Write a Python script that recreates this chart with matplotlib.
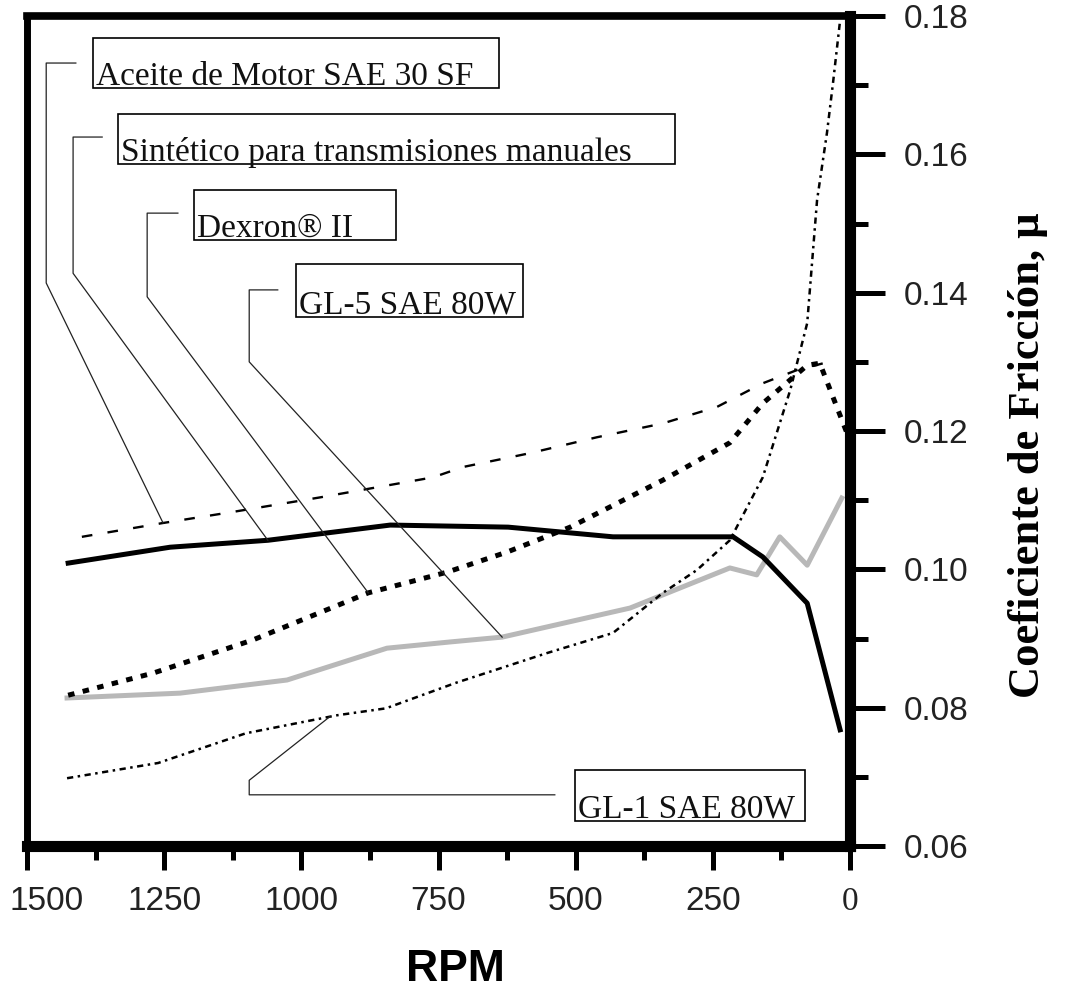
import matplotlib.pyplot as plt
from matplotlib.patches import Rectangle
from matplotlib.ticker import MultipleLocator

# datos (RPM, coeficiente de friccion)
rpm_aceite = [1400, 1252, 1125, 966, 760, 705, 583, 461, 341, 242, 159, 97, 24]
mu_aceite = [0.1047, 0.1067, 0.1083, 0.1104, 0.1133, 0.1148, 0.1168, 0.1191,
             0.1211, 0.1235, 0.1269, 0.1288, 0.1303]

rpm_sint = [1425, 1239, 1061, 838, 623, 432, 213, 159, 78, 18]
mu_sint = [0.1009, 0.1032, 0.1042, 0.1064, 0.1061, 0.1047, 0.1047, 0.1018, 0.0951, 0.0768]

rpm_dex = [1425, 1270, 1088, 878, 734, 625, 510, 341, 219, 159, 78, 55, 31, 6]
mu_dex = [0.0818, 0.0850, 0.0898, 0.0966, 0.0996, 0.1025, 0.1061, 0.1129,
          0.1183, 0.1240, 0.1295, 0.1298, 0.1249, 0.1198]

rpm_gl5 = [1427, 1221, 1026, 844, 729, 634, 401, 219, 170, 128, 78, 15]
mu_gl5 = [0.0814, 0.0821, 0.0840, 0.0886, 0.0895, 0.0902, 0.0944, 0.1002,
          0.0992, 0.1047, 0.1006, 0.1103]

rpm_gl1 = [1427, 1261, 1101, 935, 846, 718, 552, 432, 341, 279, 219, 159,
           109, 78, 60, 42, 31, 18]
mu_gl1 = [0.0698, 0.0720, 0.0763, 0.0789, 0.0799, 0.0836, 0.0879, 0.0908,
          0.0966, 0.0999, 0.1042, 0.1133, 0.1259, 0.1356, 0.1534, 0.1631,
          0.1703, 0.1794]

nombres = ["Aceite de Motor SAE 30 SF",
           "Sintético para transmisiones manuales",
           "Dexron® II",
           "GL-5 SAE 80W",
           "GL-1 SAE 80W"]

x_ticks = [1500, 1250, 1000, 750, 500, 250, 0]
y_ticks = [0.06, 0.08, 0.10, 0.12, 0.14, 0.16, 0.18]

# cajas de etiqueta (x izq, x der, y abajo, y arriba) y lineas guia, en datos
cajas = [(1380, 640, 0.1696, 0.1768),
         (1334, 319, 0.1586, 0.1658),
         (1196, 827, 0.1476, 0.1548),
         (1010, 596, 0.1365, 0.1441),
         (501, 82, 0.0636, 0.0710)]
guias = [([1411, 1465, 1465, 1252], [0.1732, 0.1732, 0.1414, 0.1067]),
         ([1363, 1416, 1416, 1061], [0.1625, 0.1625, 0.1428, 0.1042]),
         ([1225, 1281, 1281, 878], [0.1515, 0.1515, 0.1394, 0.0966]),
         ([1043, 1095, 1095, 634], [0.1404, 0.1404, 0.1300, 0.0902]),
         ([538, 1095, 1095, 948], [0.0674, 0.0674, 0.0695, 0.0787])]

serif = ["Liberation Serif", "DejaVu Serif"]
sans = ["Liberation Sans", "DejaVu Sans"]

fig = plt.figure(figsize=(10.73, 9.93), dpi=100)
ax = fig.add_axes([27 / 1073, 1 - 846 / 993, 823 / 1073, 830 / 993])

ax.plot(rpm_aceite, mu_aceite, color="black", lw=1.7, linestyle=(0, (4.5, 6.5)))
ax.plot(rpm_gl5, mu_gl5, color="#b8b8b8", lw=3.6, solid_joinstyle="round")
ax.plot(rpm_dex, mu_dex, color="black", lw=3.6, linestyle=(0, (1.3, 1.7)),
        dash_capstyle="butt")
ax.plot(rpm_gl1, mu_gl1, color="black", lw=1.8, linestyle=(0, (2.5, 1.8, 1, 1.8)))
ax.plot(rpm_sint, mu_sint, color="black", lw=3.6, solid_joinstyle="round")

for (gx, gy) in guias:
    ax.plot(gx, gy, color="#222222", lw=0.9)

for nombre, (x0, x1, y0, y1) in zip(nombres, cajas):
    ax.add_patch(Rectangle((min(x0, x1), y0), abs(x1 - x0), y1 - y0,
                           fill=False, edgecolor="black", lw=1.2))
    ax.text(x0 - 5, y0 + 0.00045, nombre, family=serif, fontsize=24,
            color="#111111", ha="left", va="baseline")

ax.set_xlim(1500, 0)
ax.set_ylim(0.06, 0.18)

# la etiqueta 1500 va desplazada a la derecha para que quepa
ax.set_xticks(x_ticks)
ax.xaxis.set_minor_locator(MultipleLocator(125))
ax.set_xticklabels([""] + [str(v) for v in x_ticks[1:]])
for lab in ax.get_xticklabels():
    lab.set_family(sans)
    lab.set_fontsize(24)
    lab.set_color("#222222")
ax.get_xticklabels()[-1].set_family(serif)
ax.annotate(str(x_ticks[0]), xy=(x_ticks[0], 0), xycoords=("data", "axes fraction"),
            xytext=(14, -29), textcoords="offset points", ha="center", va="top",
            family=sans, fontsize=24, color="#222222", annotation_clip=False)

ax.yaxis.tick_right()
ax.set_yticks(y_ticks)
ax.yaxis.set_minor_locator(MultipleLocator(0.01))
ax.set_yticklabels([f"{v:.2f}" for v in y_ticks], family=sans, fontsize=24,
                   color="#222222")

ax.tick_params(axis="x", which="major", direction="out", length=17, width=3.6, pad=12)
ax.tick_params(axis="x", which="minor", direction="out", length=10, width=3.6)
ax.tick_params(axis="y", which="major", direction="out", length=25, width=3.6, pad=14)
ax.tick_params(axis="y", which="minor", direction="out", length=13, width=3.6)

ax.spines["left"].set_linewidth(5)
ax.spines["top"].set_linewidth(5.5)
ax.spines["right"].set_linewidth(8)
ax.spines["bottom"].set_linewidth(8)

fig.text(455 / 1073, 3 / 993, "RPM", family=sans, fontsize=32, fontweight="bold",
         ha="center", va="bottom")
fig.text(1028 / 1073, 1 - 455 / 993, "Coeficiente de Fricción, μ", family=serif,
         fontsize=32, fontweight="bold", rotation=90, ha="center", va="center")

fig.savefig("out.png", dpi=100)
